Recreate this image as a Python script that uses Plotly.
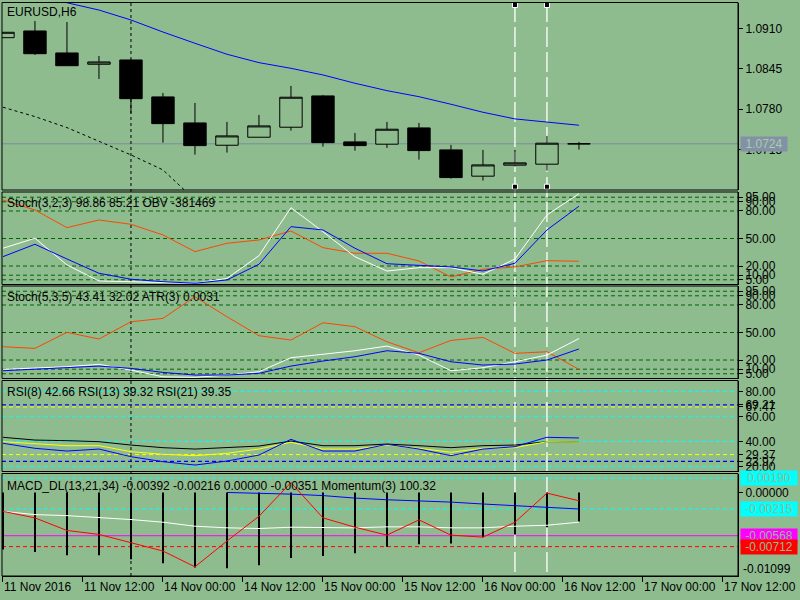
import plotly.graph_objects as go

BG = "#8fbc8f"
FONT = "Liberation Sans"

# ---- data (EURUSD, H6) ----
time_labels = ["11 Nov 2016", "11 Nov 12:00", "14 Nov 00:00", "14 Nov 12:00", "15 Nov 00:00",
               "15 Nov 12:00", "16 Nov 00:00", "16 Nov 12:00", "17 Nov 00:00", "17 Nov 12:00"]
time_ticks = [0, 2.5, 5, 7.5, 10, 12.5, 15, 17.5, 20, 22.5]

opens = [1.08949, 1.09057, 1.08703, 1.08521, 1.08590, 1.07995, 1.07576, 1.07217, 1.07346, 1.07507,
         1.08011, 1.07271, 1.07234, 1.07496, 1.07142, 1.06719, 1.06896, 1.06912, 1.07240]
highs = [1.09040, 1.09217, 1.09201, 1.08654, 1.08595, 1.08059, 1.07898, 1.07592, 1.07705, 1.08172,
         1.08027, 1.07415, 1.07592, 1.07576, 1.07222, 1.07142, 1.07142, 1.07367, 1.07271]
lows = [1.08945, 1.08670, 1.08498, 1.08284, 1.07732, 1.07259, 1.07066, 1.07099, 1.07346, 1.07452,
        1.07195, 1.07131, 1.07174, 1.06986, 1.06680, 1.06648, 1.06873, 1.06809, 1.07147]
closes = [1.09036, 1.08691, 1.08498, 1.08558, 1.07967, 1.07565, 1.07211, 1.07367, 1.07528, 1.07990,
          1.07259, 1.07211, 1.07475, 1.07131, 1.06696, 1.06900, 1.06933, 1.07250, 1.07240]
bars = list(range(len(closes)))

ma_blue = [1.09781, 1.09636, 1.09512, 1.09394, 1.09234, 1.09040, 1.08859, 1.08682, 1.08547, 1.08456,
           1.08349, 1.08215, 1.08096, 1.07999, 1.07877, 1.07748, 1.07641, 1.07588, 1.07539]
ma_dotted = [1.07829, 1.07678, 1.07501, 1.07275, 1.07061, 1.06820, 1.06337]
bid = 1.0724
price_ticks = [1.0910, 1.0845, 1.0780, 1.0715]

st1_main = [39.4, 50.3, 21.2, 3.7, 2.9, 2.3, 1.2, 6.5, 31.3, 83.6, 57.4, 30.1, 14.5, 18.2, 18.2, 11.0, 27.7, 75.7, 98.86]
st1_signal = [30.2, 43.7, 27.7, 12.1, 5.6, 2.9, 1.2, 4.8, 21.9, 62.9, 59.3, 39.4, 22.5, 20.4, 19.0, 14.6, 23.0, 59.3, 85.21]
obv = [92.0, 81.1, 61.8, 70.2, 65.5, 53.9, 35.7, 44.8, 48.4, 58.2, 40.0, 33.9, 33.9, 25.5, 8.1, 16.5, 19.0, 25.8, 25.2]

st2_main = [9.8, 10.9, 12.7, 15.3, 9.0, 1.7, 1.1, 3.6, 7.2, 22.5, 26.2, 30.1, 35.2, 25.4, 8.3, 11.6, 18.1, 25.4, 43.41]
st2_signal = [8.3, 9.8, 11.6, 13.4, 10.9, 6.5, 3.6, 3.6, 5.5, 13.4, 18.9, 23.6, 30.1, 27.3, 18.1, 14.5, 15.6, 20.0, 32.02]
atr = [34.5, 32.7, 50.2, 42.9, 61.7, 65.4, 89.0, 67.2, 46.5, 41.8, 60.6, 56.3, 39.9, 27.9, 41.4, 44.7, 27.3, 29.0, 9.8]
stoch_levels = [95, 90, 80, 50, 20, 10, 5]

rsi21 = [43.2, 41.0, 40.5, 39.7, 37.0, 34.9, 33.8, 34.9, 36.2, 40.2, 36.5, 36.5, 37.8, 36.5, 34.9, 36.5, 37.0, 39.7, 39.35]
rsi13 = [39.7, 37.8, 36.5, 36.5, 31.7, 29.6, 28.5, 30.4, 33.8, 39.2, 33.8, 33.8, 37.0, 34.4, 31.2, 34.4, 34.9, 39.7, 39.32]
rsi8 = [38.4, 34.4, 32.2, 33.8, 27.7, 23.7, 21.0, 24.2, 29.0, 41.6, 32.2, 32.2, 37.6, 33.8, 28.5, 33.8, 35.7, 43.2, 42.66]
rsi_cyan_levels = [80, 60, 40, 20]
rsi_blue_levels = [69.21, 23.97]
rsi_yellow_levels = [67.47, 29.37]

macd_hist = [-0.00750, -0.00782, -0.00826, -0.00826, -0.00878, -0.00930, -0.00987, -0.00996, -0.00956, -0.00861,
             -0.00835, -0.00800, -0.00712, -0.00682, -0.00669, -0.00587, -0.00551, -0.00456, -0.00380]
macd_white = [-0.00247, -0.00290, -0.00303, -0.00325, -0.00355, -0.00390, -0.00443, -0.00464, -0.00473, -0.00456,
              -0.00464, -0.00464, -0.00451, -0.00451, -0.00464, -0.00464, -0.00443, -0.00430, -0.00390]
macd_blue = [None] * 7 + [0.00002, -0.00007, -0.00020, -0.00039, -0.00072, -0.00094, -0.00107, -0.00125,
                          -0.00150, -0.00172, -0.00203, -0.00216]
momentum = [-0.00247, -0.00333, -0.00499, -0.00551, -0.00660, -0.00770, -0.00978, -0.00638, -0.00312, 0.00132,
            -0.00333, -0.00456, -0.00560, -0.00359, -0.00560, -0.00587, -0.00390, -0.00007, -0.00107]
macd_levels = [(0.00190, "#00ffff", "4px,3px"), (-0.00215, "#00ffff", "4px,3px"),
               (-0.00568, "#ff00ff", "solid"), (-0.00712, "#ff0000", "4px,3px")]

vline_dotted = [4]
vline_white = [16, 17]

# ---- panel geometry (pixels from top of the plot area, 576 px tall) ----
H = 576.0
panels = [(2.5, 190), (192, 284.5), (286, 378.5), (380.5, 471.5), (473.5, 576)]


def dom(top, bottom):
    return [(H - bottom) / H, (H - top) / H]


fig = go.Figure()

# price panel
fig.add_trace(go.Scatter(x=bars, y=ma_blue, mode="lines", line=dict(color="#0000ff", width=1), yaxis="y"))
fig.add_trace(go.Scatter(x=bars[:len(ma_dotted)], y=ma_dotted, mode="lines",
                         line=dict(color="black", width=1, dash="3px,3px"), yaxis="y"))
fig.add_trace(go.Candlestick(
    x=bars, open=opens, high=highs, low=lows, close=closes, whiskerwidth=0,
    increasing=dict(fillcolor=BG, line=dict(color="black", width=1)),
    decreasing=dict(fillcolor="black", line=dict(color="black", width=1)),
    yaxis="y"))

# stochastic 1 + OBV
for vals, col in [(obv, "#ff4500"), (st1_main, "white"), (st1_signal, "#0000ff")]:
    fig.add_trace(go.Scatter(x=bars, y=vals, mode="lines", line=dict(color=col, width=1), yaxis="y2"))

# stochastic 2 + ATR
for vals, col in [(atr, "#ff4500"), (st2_main, "white"), (st2_signal, "#0000ff")]:
    fig.add_trace(go.Scatter(x=bars, y=vals, mode="lines", line=dict(color=col, width=1), yaxis="y3"))

# RSI
for vals, col in [(rsi21, "black"), (rsi13, "#ffff00"), (rsi8, "#0000ff")]:
    fig.add_trace(go.Scatter(x=bars, y=vals, mode="lines", line=dict(color=col, width=1), yaxis="y4"))

# MACD
fig.add_trace(go.Bar(x=bars, y=macd_hist, width=0.06, marker=dict(color="black", line=dict(width=0)), yaxis="y5"))
fig.add_trace(go.Scatter(x=bars, y=macd_white, mode="lines", line=dict(color="white", width=1), yaxis="y5"))
fig.add_trace(go.Scatter(x=bars, y=macd_blue, mode="lines", line=dict(color="#0000ff", width=1), yaxis="y5"))
fig.add_trace(go.Scatter(x=bars, y=momentum, mode="lines", line=dict(color="#ff0000", width=1), yaxis="y5"))

shapes = []
for ylev in stoch_levels:
    for yr in ["y2", "y3"]:
        shapes.append(dict(type="line", xref="paper", x0=0, x1=1, yref=yr, y0=ylev, y1=ylev, layer="below",
                           line=dict(color="#006400", width=1, dash="4px,3px")))
for levels, col in [(rsi_cyan_levels, "#00ffff"), (rsi_blue_levels, "#0000ff"), (rsi_yellow_levels, "#ffff00")]:
    for ylev in levels:
        shapes.append(dict(type="line", xref="paper", x0=0, x1=1, yref="y4", y0=ylev, y1=ylev, layer="below",
                           line=dict(color=col, width=1.3 if col == "#0000ff" else 1, dash="4px,3px")))
for ylev, col, dash in macd_levels:
    shapes.append(dict(type="line", xref="paper", x0=0, x1=1, yref="y5", y0=ylev, y1=ylev, layer="below",
                       line=dict(color=col, width=1, dash=dash)))
shapes.append(dict(type="line", xref="paper", x0=0, x1=1, yref="y", y0=bid, y1=bid, layer="below",
                   line=dict(color="#7c8aa0", width=1)))

for b in vline_dotted:
    shapes.append(dict(type="line", xref="x", x0=b, x1=b, yref="paper", y0=0, y1=(H - 2.5) / H, layer="below",
                       line=dict(color="black", width=1, dash="3px,3px")))
for b in vline_white:
    shapes.append(dict(type="line", xref="x", x0=b, x1=b, yref="paper", y0=(H - 572) / H, y1=(H - 4) / H,
                       layer="below", line=dict(color="white", width=1.3, dash="20px,5px")))
    for ypx in [5, 186.7]:
        shapes.append(dict(type="rect", xref="x", xsizemode="pixel", xanchor=b, x0=-2.5, x1=2.5,
                           yref="paper", ysizemode="pixel", yanchor=(H - ypx) / H, y0=-2.5, y1=2.5,
                           fillcolor="black", line=dict(color="white", width=1)))

for top, bottom in panels:
    d = dom(top, bottom)
    shapes.append(dict(type="rect", xref="paper", x0=0, x1=1, yref="paper", y0=d[0], y1=d[1],
                       line=dict(color="black", width=1)))

titles = [("EURUSD,H6", 12), ("Stoch(3,2,3) 98.86 85.21 OBV -381469", 202.7),
          ("Stoch(5,3,5) 43.41 32.02 ATR(3) 0.0031", 297),
          ("RSI(8) 42.66 RSI(13) 39.32 RSI(21) 39.35", 392),
          ("MACD_DL(13,21,34) -0.00392 -0.00216 0.00000 -0.00351 Momentum(3) 100.32", 486)]
annotations = []
for txt, ypx in titles:
    annotations.append(dict(text=txt, xref="paper", x=0, xanchor="left", xshift=3, yref="paper", y=(H - ypx) / H,
                            yanchor="middle", showarrow=False, font=dict(family=FONT, size=12, color="black")))

annotations.append(dict(text="%.4f" % bid, xref="paper", x=1, xanchor="left", xshift=2, yref="y", y=bid,
                        showarrow=False, bgcolor="#8291a6", width=46, height=14, borderpad=0,
                        font=dict(family=FONT, size=12, color="#a6cfa6")))
for ylev, col, dash in macd_levels:
    annotations.append(dict(text="%.5f" % ylev, xref="paper", x=1, xanchor="left", xshift=2, yref="y5", y=ylev,
                            showarrow=False, bgcolor=col, width=56, height=14, borderpad=0,
                            font=dict(family=FONT, size=12, color=BG)))
annotations.append(dict(text="-0.01099", xref="paper", x=1, xanchor="left", xshift=3, yref="paper",
                        y=(H - 569) / H, yanchor="middle", showarrow=False,
                        font=dict(family=FONT, size=12, color="black")))

yax = dict(side="right", anchor="x", showgrid=False, zeroline=False, showline=True, linecolor="black",
           linewidth=1, ticks="outside", ticklen=4, tickcolor="black", automargin=False,
           tickfont=dict(family=FONT, size=12, color="black"), fixedrange=True)

fig.update_layout(
    width=800, height=600,
    margin=dict(l=2, r=62, t=0, b=24, autoexpand=False),
    paper_bgcolor=BG, plot_bgcolor=BG,
    showlegend=False, hovermode=False, boxgap=0.3, boxgroupgap=0,
    shapes=shapes, annotations=annotations,
    xaxis=dict(domain=[0, 1], range=[-0.03, 22.97], anchor="y5", showgrid=False, zeroline=False,
               showline=True, linecolor="black", ticks="outside", ticklen=5, tickcolor="black",
               tickvals=time_ticks, ticktext=time_labels, ticklabelposition="outside right",
               tickangle=0, automargin=False, fixedrange=True,
               tickfont=dict(family=FONT, size=12, color="black"), rangeslider=dict(visible=False)),
    yaxis=dict(yax, domain=dom(*panels[0]), range=[1.064962, 1.095155],
               tickvals=price_ticks, ticktext=["%.4f" % v for v in price_ticks]),
    yaxis2=dict(yax, domain=dom(*panels[1]), range=[-0.15, 100.7],
                tickvals=stoch_levels, ticktext=["%.2f" % v for v in stoch_levels]),
    yaxis3=dict(yax, domain=dom(*panels[2]), range=[-0.15, 100.7],
                tickvals=stoch_levels, ticktext=["%.2f" % v for v in stoch_levels]),
    yaxis4=dict(yax, domain=dom(*panels[3]), range=[15.84, 88.64],
                tickvals=rsi_cyan_levels + rsi_blue_levels + rsi_yellow_levels,
                ticktext=["%.2f" % v for v in rsi_cyan_levels + rsi_blue_levels + rsi_yellow_levels]),
    yaxis5=dict(yax, domain=dom(*panels[4]), range=[-0.01099, 0.00252],
                tickvals=[0.0], ticktext=["0.00000"]),
)

# the page body has a default 8px margin; drop it so the chart sits at the window corner
fig.write_html("out.html", config={"displayModeBar": False},
               post_script="document.body.style.margin='0px';")
